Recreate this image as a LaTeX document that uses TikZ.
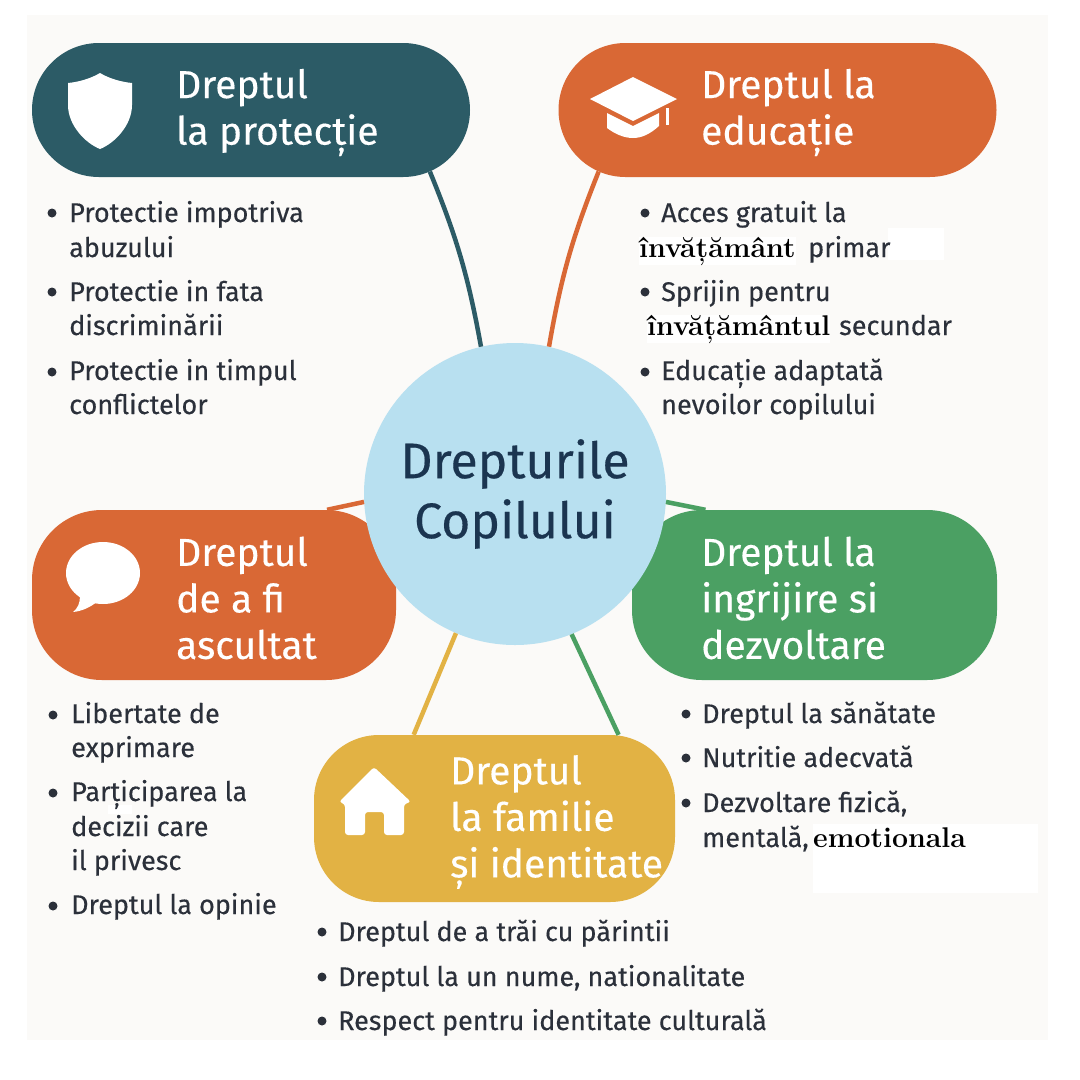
\documentclass[tikz,border=0pt]{standalone}
\usepackage{fontspec}
\usetikzlibrary{shapes.misc}
\newfontfamily\sansfam{Fira Sans}[FakeBold=0.3]
\definecolor{fundal}{HTML}{FBFAF8}
\definecolor{tealc}{HTML}{2C5B66}
\definecolor{orangec}{HTML}{D96835}
\definecolor{greenc}{HTML}{4BA063}
\definecolor{yellowc}{HTML}{E2B244}
\definecolor{bluec}{HTML}{B8E0F0}
\definecolor{navyc}{HTML}{1B3550}
\definecolor{textc}{HTML}{2B303A}
\tikzset{
	capsula/.style={rounded rectangle,minimum width=438pt,minimum height=134pt,inner sep=0pt},
	bloc/.style={rectangle,rounded corners=#1,inner sep=0pt},
	titlu/.style={anchor=west,align=left,inner sep=0pt,text=white,font=\sansfam\fontsize{39}{46.5}\selectfont},
	lista/.style={anchor=base west,inner sep=0pt,text=textc,font=\sansfam\fontsize{27}{30}\selectfont},
	petic/.style={anchor=base west,inner sep=0pt,fill=white,text=black,font=\rmfamily\bfseries\fontsize{28.5}{30}\selectfont},
	legatura/.style={line width=4.5pt}
}
\begin{document}
\begin{tikzpicture}[x=1pt,y=-1pt,line join=round]
	\useasboundingbox (0,0) rectangle (1080,1080);
	\fill[fundal] (27,15) rectangle (1048,1040);
	% capsule
	\node[capsula,fill=tealc] (protectie) at (251,110) {};
	\node[capsula,fill=orangec] (educatie) at (777.5,110) {};
	\node[bloc=70pt,fill=orangec,minimum width=364pt,minimum height=170pt] (ascultat) at (214,595) {};
	\node[bloc=70pt,fill=greenc,minimum width=365pt,minimum height=170pt] (ingrijire) at (814.5,595) {};
	\node[bloc=65pt,fill=yellowc,minimum width=361pt,minimum height=167pt] (familie) at (494.5,818.5) {};
	\node[circle,fill=bluec,minimum size=302pt,inner sep=0pt,align=center,text=navyc,
		font=\sansfam\fontsize{50}{60}\selectfont] (centru) at (515,494) {Drepturile\\Copilului};
	% legaturi
	\draw[legatura,tealc] (protectie.-19.3) to[bend left=6] (centru.103);
	\draw[legatura,orangec] (educatie.199.4) to[bend right=6] (centru.77.4);
	\draw[legatura,orangec] (ascultat.37.2) -- (centru.183);
	\draw[legatura,greenc] (ingrijire.142.9) -- (centru.-3);
	\draw[legatura,yellowc] (familie.134.6) -- (centru.247.5);
	\draw[legatura,greenc] (familie.34.7) -- (centru.292.5);
	% titluri
	\node[titlu] (tprotectie) at (176,112.5) {Dreptul\\la protecție};
	\node[titlu] (teducatie) at (701,112.5) {Dreptul la\\educație};
	\node[titlu] (tascultat) at (176,598) {Dreptul\\de a fi\\ascultat};
	\node[titlu] (tingrijire) at (701,598) {Dreptul la\\ingrijire si\\dezvoltare};
	\node[titlu] (tfamilie) at (450,822) {Dreptul\\la familie\\și identitate};
	% iconite
	\fill[white] (100,73) .. controls (110,79) and (122,82) .. (132,83) -- (132,105)
		.. controls (132,125) and (115,143) .. (100,149) .. controls (85,143) and (68,125) .. (68,105)
		-- (68,83) .. controls (78,82) and (90,79) .. (100,73) -- cycle;
	\fill[white] (590,99) -- (633,77) -- (677,99) -- (633,121) -- cycle;
	\fill[white] (607,113) -- (633,126) -- (659,113) -- (659,126) .. controls (650,134) and (642,138) .. (633,138)
		.. controls (624,138) and (615,134) .. (607,128) -- cycle;
	\fill[white] (666,108) rectangle (669,125);
	\fill[white] (103,573) ellipse (37pt and 31pt);
	\fill[white] (80,596) .. controls (80,603) and (78,608) .. (73,612) .. controls (83,611) and (90,607) .. (97,602) -- cycle;
	\fill[white,rounded corners=3pt] (339,802) -- (374,767) -- (411,802) -- (404,804) -- (404,835) -- (384,835)
		-- (384,812) -- (365,812) -- (365,835) -- (345,835) -- (345,804) -- cycle;
	% petice albe
	\fill[white] (888,228) rectangle (944,260);
	\fill[white] (813,824) rectangle (1038,893);
	\fill[white] (108,805) rectangle (132,814);
	% liste
	\foreach \x/\y/\txt in {69/222/Protectie impotriva,69/257/abuzului,69/301/Protectie in fata,69/335/discriminării,
		69/380/Protectie in timpul,69/414/conflictelor,
		661/222/Acces gratuit la,808/257/primar,661/301/Sprijin pentru,839/335/secundar,661/380/Educație adaptată,661/414/nevoilor copilului,
		71/723/Libertate de,71/757/exprimare,71/801/Parțiciparea la,71/836/decizii care,71/870/il privesc,71/914/Dreptul la opinie,
		702/723/Dreptul la sănătate,702/767/Nutritie adecvată,702/812/Dezvoltare fizică{,},702/847/mentală{,},
		338/941/Dreptul de a trăi cu părintii,338/986/{Dreptul la un nume, nationalitate},338/1030/Respect pentru identitate culturală}{
		\node[lista] at (\x,\y) {\txt};}
	\node[petic] (pinvatamant) at (639,257) {învățământ};
	\node[petic] (pinvatamantul) at (647,335) {învățământul};
	\node[petic] (pemotionala) at (813,847) {emotionala};
	% puncte
	\foreach \x/\y in {52/213,52/292,52/372,645/213,645/292,645/372,53/715,53/793,53/906,686/714,686/758,686/803,322/932,322/977,322/1021}{
		\fill[textc] (\x,\y) circle(4.5pt);}
\end{tikzpicture}
\end{document}
